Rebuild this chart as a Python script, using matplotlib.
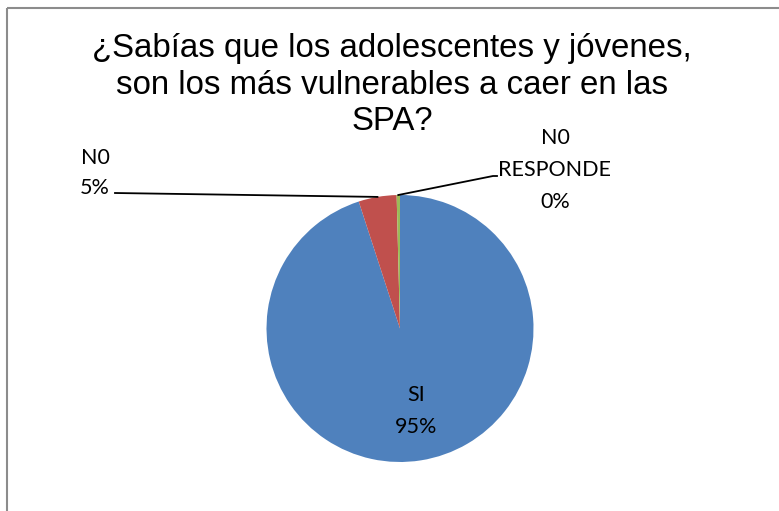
import numpy as np
import matplotlib
matplotlib.use("Agg")
import matplotlib.pyplot as plt

title = "¿Sabías que los adolescentes y jóvenes,\nson los más vulnerables a caer en las\nSPA?"
categories = ["SI", "N0", "N0\nRESPONDE"]
values = [95.0, 4.6, 0.4]
pct_labels = ["95%", "5%", "0%"]
colors = ["#4F81BD", "#C0504D", "#9BBB59"]

W, H = 779, 511
fig = plt.figure(figsize=(W / 100, H / 100), dpi=100)
ax = fig.add_axes([0, 0, 1, 1])

# frame (left and top visible)
ax.plot([7, 7], [0, H - 8], color="#8c8c8c", lw=1.5, solid_capstyle="butt")
ax.plot([7, W], [H - 8, H - 8], color="#8c8c8c", lw=1.5, solid_capstyle="butt")

cx, cy, r = 400, H - 328.5, 133.5
wedges, _ = ax.pie(values, colors=colors, startangle=90, counterclock=False,
                   center=(cx, cy), radius=r, wedgeprops=dict(linewidth=0),
                   frame=True)
ax.set_xlim(0, W)
ax.set_ylim(0, H)
ax.set_aspect("auto")
ax.axis("off")

lab_font = dict(family=["Lato", "DejaVu Sans"], fontsize=15.5, color="black")
ls = 1.72

# SI label inside
ax.text(416, H - 411, f"{categories[0]}\n{pct_labels[0]}", ha="center", va="center",
        linespacing=ls, **lab_font)

def anchor(w):
    t = np.deg2rad((w.theta1 + w.theta2) / 2)
    return cx + r * np.cos(t), cy + r * np.sin(t)

# N0 label with leader
ax.text(95, H - 173, f"{categories[1]}\n{pct_labels[1]}", ha="center", va="center",
        linespacing=1.6, **lab_font)
ax1 = anchor(wedges[1])
ax.plot([115, ax1[0]], [H - 193, ax1[1]], color="black", lw=1.3)

# N0 RESPONDE label with leader
ax.text(555, H - 170, f"{categories[2]}\n{pct_labels[2]}", ha="center", va="center",
        linespacing=ls, **lab_font)
ax2 = anchor(wedges[2])
ax.plot([ax2[0], 493, 497], [ax2[1], H - 176, H - 176], color="black", lw=1.3)

ax.text(392, H - 85, title, ha="center", va="center", linespacing=1.22,
        family=["Liberation Sans", "DejaVu Sans"], fontsize=23.8, color="black")

fig.savefig("out.png", dpi=100)
